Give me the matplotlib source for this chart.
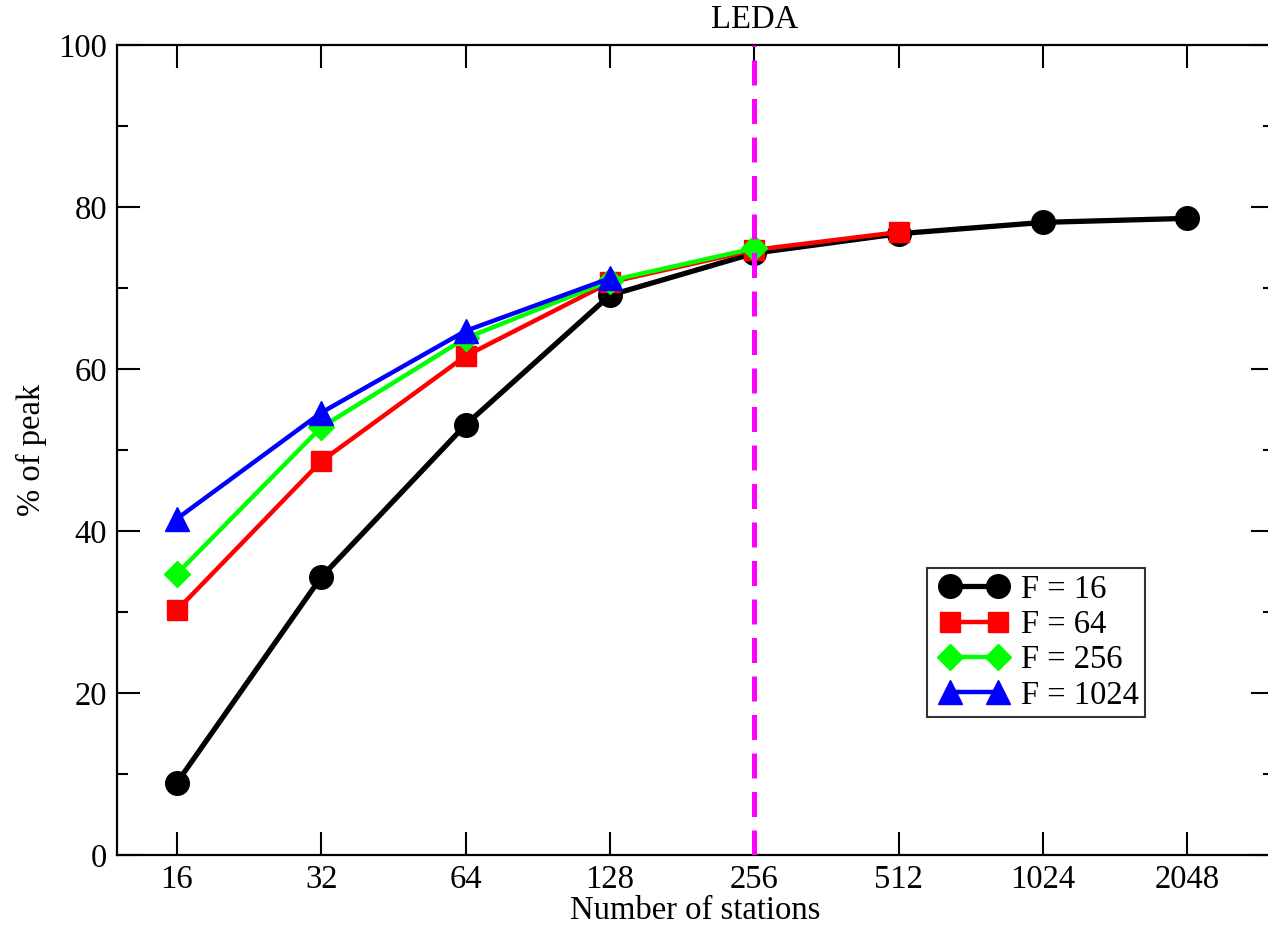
import matplotlib.pyplot as plt
from matplotlib.legend_handler import HandlerLine2D
from matplotlib.ticker import FixedLocator, MultipleLocator, NullLocator

plt.rcParams['font.family'] = ['Liberation Serif', 'DejaVu Serif']

# Data
stations = [16, 32, 64, 128, 256, 512, 1024, 2048]
f16 = [8.9, 34.3, 53.1, 69.1, 74.3, 76.7, 78.1, 78.6]
f64 = [30.2, 48.6, 61.6, 70.7, 74.7, 76.9]
f256 = [34.7, 52.8, 63.8, 70.9, 74.9]
f1024 = [41.5, 54.6, 64.7, 71.2]
tick_labels = ['16', '32', '64', '128', '256', '512', '1024', '2048']
leda = 256

fs = 23.5

fig = plt.figure(figsize=(12.68, 9.30), dpi=100)
# right spine sits just past the image edge, as in the original
ax = fig.add_axes([117 / 1268, 75 / 930, 1157 / 1268, 810 / 930])

ax.plot(stations, f16, color='black', lw=3.8, marker='o', ms=17, label='F = 16')
ax.plot(stations[:len(f64)], f64, color='red', lw=3.2, marker='s', ms=15, label='F = 64')
ax.plot(stations[:len(f256)], f256, color='#00ff00', lw=3.2, marker='D', ms=13, label='F = 256')
ax.plot(stations[:len(f1024)], f1024, color='blue', lw=3.2, marker='^', ms=17, label='F = 1024')

ax.axvline(leda, color='#ff00ff', lw=3.6, ls=(0, (5, 2.7)), zorder=5)
ax.text(leda, 101.2, 'LEDA', ha='center', va='bottom', fontsize=fs)

ax.set_xscale('log', base=2)
ax.set_xlim(16 * 2 ** -0.414, 16 * 2 ** 7.60)
ax.set_ylim(0, 100)
ax.xaxis.set_major_locator(FixedLocator(stations))
ax.xaxis.set_minor_locator(NullLocator())
ax.set_xticklabels(tick_labels)
ax.yaxis.set_major_locator(MultipleLocator(20))
ax.yaxis.set_minor_locator(MultipleLocator(10))

ax.tick_params(which='both', direction='in', top=True, right=True, labelsize=fs, width=1.5)
ax.tick_params(which='major', length=16.5, pad=7)
ax.tick_params(which='minor', length=8)
for s in ax.spines.values():
    s.set_linewidth(1.6)

ax.set_xlabel('Number of stations', fontsize=fs, labelpad=0)
ax.set_ylabel('% of peak', fontsize=fs, labelpad=8)

leg = ax.legend(loc='lower left', bbox_to_anchor=(0.700, 0.170), fontsize=fs,
                numpoints=2, frameon=True, fancybox=False, edgecolor='black',
                handlelength=2.47, handletextpad=0.2, borderpad=0.2,
                labelspacing=0.15, borderaxespad=0,
                handler_map={plt.Line2D: HandlerLine2D(marker_pad=0.5)})
leg.get_frame().set_linewidth(1.5)

fig.savefig('out.png', dpi=100)
